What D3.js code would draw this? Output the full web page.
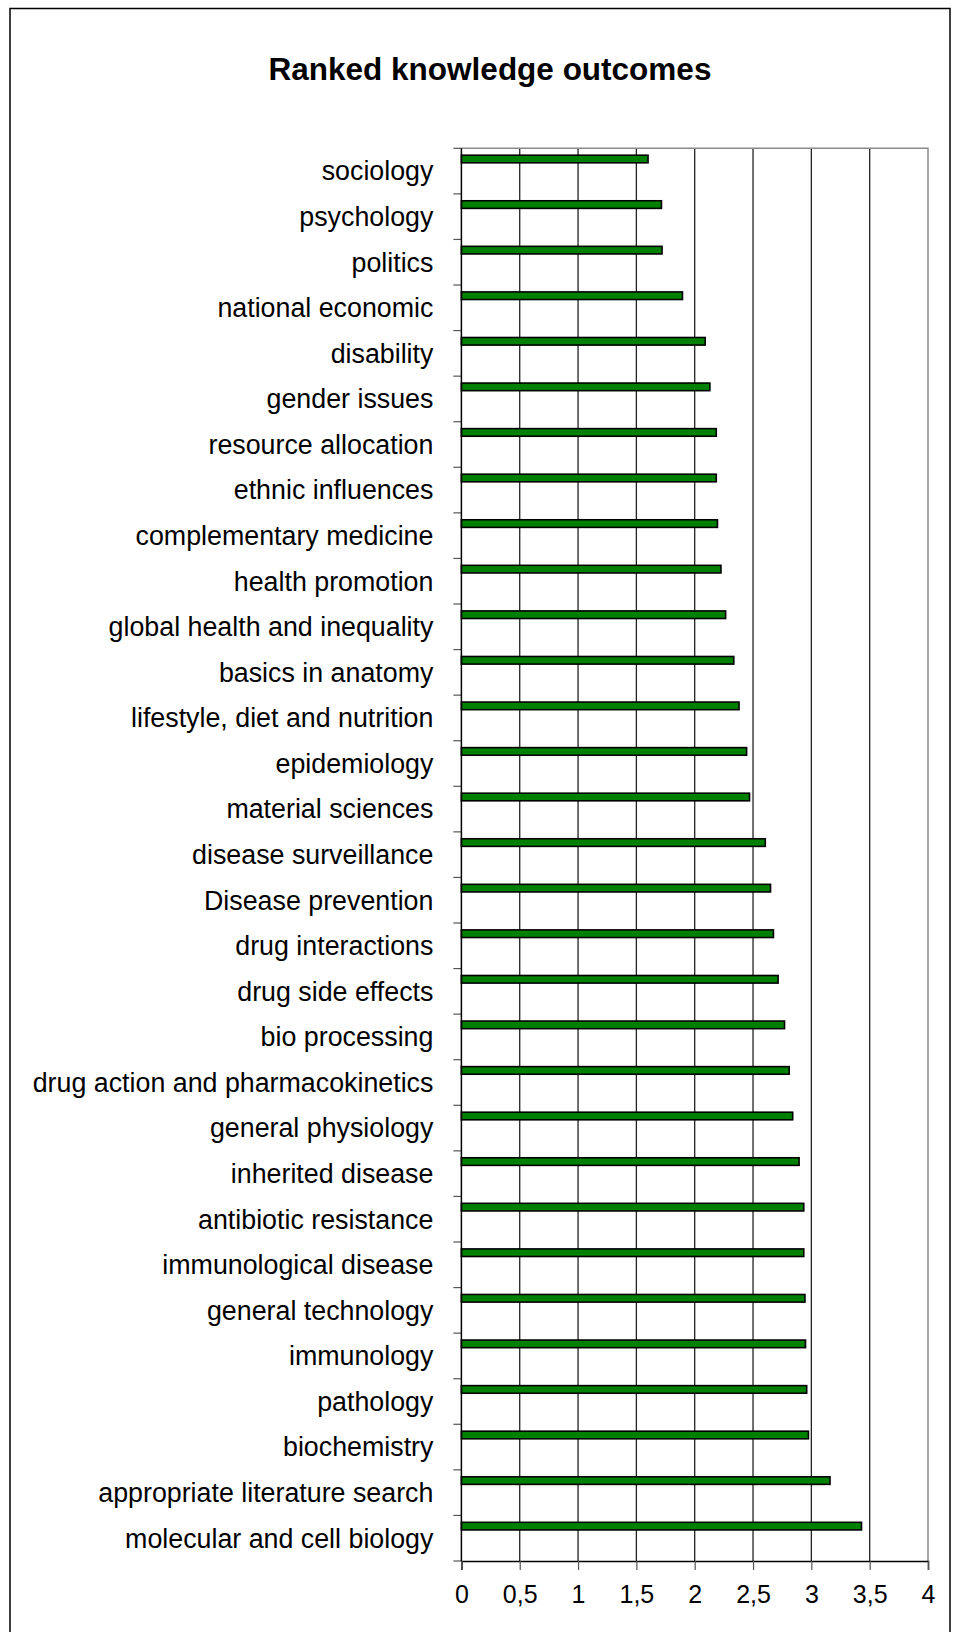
<!DOCTYPE html>
<html>
<head>
<meta charset="utf-8">
<script src="https://cdn.jsdelivr.net/npm/d3@7"></script>
<style>
  body { margin: 0; background: #fff; }
  text { font-family: "Liberation Sans", Arial, sans-serif; fill: #000; }
</style>
</head>
<body>
<div id="chart"></div>
<script>
// Kategorien (von oben nach unten) und Werte
const categories = [
  "sociology", "psychology", "politics", "national economic", "disability",
  "gender issues", "resource allocation", "ethnic influences", "complementary medicine",
  "health promotion", "global health and inequality", "basics in anatomy",
  "lifestyle, diet and nutrition", "epidemiology", "material sciences",
  "disease surveillance", "Disease prevention", "drug interactions", "drug side effects",
  "bio processing", "drug action and pharmacokinetics", "general physiology",
  "inherited disease", "antibiotic resistance", "immunological disease",
  "general technology", "immunology", "pathology", "biochemistry",
  "appropriate literature search", "molecular and cell biology"
]
const values = [
  1.60, 1.715, 1.72, 1.895, 2.09,
  2.13, 2.185, 2.185, 2.195,
  2.225, 2.265, 2.335,
  2.38, 2.445, 2.47,
  2.605, 2.65, 2.675, 2.715,
  2.77, 2.81, 2.84,
  2.895, 2.935, 2.935,
  2.945, 2.95, 2.96, 2.975,
  3.16, 3.43
]
const xTicks = [0, 0.5, 1, 1.5, 2, 2.5, 3, 3.5, 4]
const chartTitle = "Ranked knowledge outcomes"

// Ränder
const margin = { top: 148.3, right: 29, bottom: 71, left: 461.4 }
const width = 957 - margin.left - margin.right
const height = 1632 - margin.top - margin.bottom

const root = d3.select("#chart").append("svg")
  .attr("width", 957)
  .attr("height", 1632)

// Rahmen um das Diagramm
root.append("rect")
  .attr("x", 10).attr("y", 8.5)
  .attr("width", 940).attr("height", 1700)
  .attr("fill", "none")
  .attr("stroke", "#000")
  .attr("stroke-width", 1.5)

// Titel
root.append("text")
  .attr("x", 490)
  .attr("y", 80)
  .attr("text-anchor", "middle")
  .style("font-size", "31.5px")
  .style("font-weight", "bold")
  .text(chartTitle)

const svg = root.append("g")
  .attr("transform", "translate(" + margin.left + "," + margin.top + ")")

// Skalen
const x = d3.scaleLinear().domain([0, 4]).range([0, width])
const y = d3.scaleBand().domain(categories).range([0, height])

// Gitterlinien
svg.selectAll(".grid")
  .data(xTicks.filter(d => d > 0 && d < 4))
  .enter().append("line")
  .attr("class", "grid")
  .attr("x1", d => x(d)).attr("x2", d => x(d))
  .attr("y1", 0).attr("y2", height)
  .attr("stroke", "#222")
  .attr("stroke-width", 1.3)

// Rahmen der Zeichenfläche (oben/rechts)
svg.append("path")
  .attr("d", "M0,0H" + x(4) + "V" + height)
  .attr("fill", "none")
  .attr("stroke", "#8a8a8a")
  .attr("stroke-width", 1.5)

// Balken
const bw = y.bandwidth()
svg.selectAll(".bar")
  .data(categories)
  .enter().append("rect")
  .attr("class", "bar")
  .attr("x", 0)
  .attr("y", d => y(d) + bw * 0.235 - 3.8)
  .attr("width", (d, i) => x(values[i]))
  .attr("height", 7.6)
  .attr("fill", "#008000")
  .attr("stroke", "#000")
  .attr("stroke-width", 1.6)

// y-Achse: Linie und Striche zwischen den Kategorien
const yTickPos = categories.map(c => y(c)).concat([height])
svg.selectAll(".ytick")
  .data(yTickPos)
  .enter().append("line")
  .attr("class", "ytick")
  .attr("x1", -8).attr("x2", 0)
  .attr("y1", d => d).attr("y2", d => d)
  .attr("stroke", "#555")
  .attr("stroke-width", 1.2)

svg.append("line")
  .attr("x1", 0).attr("x2", 0)
  .attr("y1", 0).attr("y2", height)
  .attr("stroke", "#000")
  .attr("stroke-width", 1.5)

const yAxis = d3.axisLeft(y)
  .tickSize(0)
  .tickPadding(28)

svg.append("g")
  .attr("class", "y axis")
  .call(yAxis)
  .call(g => g.select(".domain").remove())
  .selectAll("text")
  .style("font-size", "26.8px")
  .attr("dy", "0.35em")

// x-Achse
const xAxis = d3.axisBottom(x)
  .tickValues(xTicks)
  .tickSize(9)
  .tickPadding(15)
  .tickFormat(d => String(d).replace(".", ","))

svg.append("g")
  .attr("class", "x axis")
  .attr("transform", "translate(0," + height + ")")
  .call(xAxis)
  .call(g => g.select(".domain").attr("stroke", "#000").attr("stroke-width", 1.5))
  .call(g => g.selectAll(".tick line").attr("stroke", "#555").attr("stroke-width", 1.2))
  .selectAll("text")
  .style("font-size", "25px")
</script>
</body>
</html>
